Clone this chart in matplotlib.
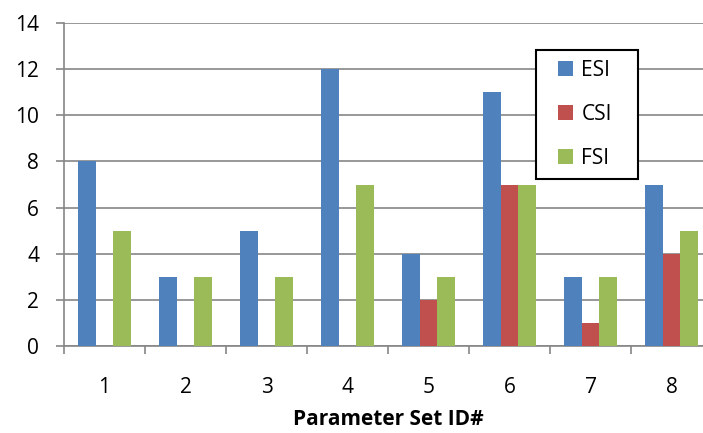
import matplotlib.pyplot as plt
import numpy as np
from matplotlib.patches import Rectangle

plt.rcParams['font.family'] = ['Open Sans', 'DejaVu Sans']

param_ids = ['1', '2', '3', '4', '5', '6', '7', '8']
esi = np.array([8, 3, 5, 12, 4, 11, 3, 7])
csi = np.array([0, 0, 0, 0, 2, 7, 1, 4])
fsi = np.array([5, 3, 3, 7, 3, 7, 3, 5])

W, H = 703, 433
fig = plt.figure(figsize=(W / 100, H / 100), dpi=100)
# axis box runs past the right edge, as in the original
ax = fig.add_axes([64 / W, 87 / H, 648 / W, 323 / H])

x = np.arange(len(param_ids))
bw = 0.222
ax.bar(x - bw, esi, bw, color='#4F81BD', label='ESI', zorder=3)
ax.bar(x, csi, bw, color='#C0504D', label='CSI', zorder=3)
ax.bar(x + bw, fsi, bw, color='#9BBB59', label='FSI', zorder=3)

ax.set_xlim(-0.5, len(param_ids) - 0.5)
ax.set_ylim(0, 14)
ax.set_yticks(np.arange(0, 15, 2))
ax.yaxis.grid(True, color='#868686', linewidth=1.2, zorder=0)
ax.set_axisbelow(True)

ax.set_xticks(x)
ax.set_xticklabels(param_ids)
ax.set_xticks(np.arange(-0.5, len(param_ids)), minor=True)
ax.tick_params(axis='x', which='major', length=0, pad=22, labelsize=15)
ax.tick_params(axis='x', which='minor', length=6, width=1.2, color='#868686')
ax.tick_params(axis='y', length=6, width=1.2, color='#868686', pad=12, labelsize=15)

for s in ['top', 'right']:
    ax.spines[s].set_visible(False)
for s in ['left', 'bottom']:
    ax.spines[s].set_color('#868686')
    ax.spines[s].set_linewidth(1.2)

ax.set_xlabel('Parameter Set ID#', fontsize=15, fontweight='bold', labelpad=8)

# legend box
fig.patches.append(Rectangle((536 / W, 1 - 179 / H), 102 / W, 129 / H,
                             transform=fig.transFigure, facecolor='white',
                             edgecolor='black', linewidth=1.5, zorder=5))
handles, labels = ax.get_legend_handles_labels()
leg = fig.legend(handles, labels, loc='upper left',
                 bbox_to_anchor=(558 / W, 1 - 60 / H), bbox_transform=fig.transFigure,
                 frameon=False, fontsize=15, borderpad=0, borderaxespad=0,
                 handlelength=0.72, handleheight=0.72, handletextpad=0.4,
                 labelspacing=1.1)
leg.set_zorder(6)

fig.savefig('out.png', dpi=100)
